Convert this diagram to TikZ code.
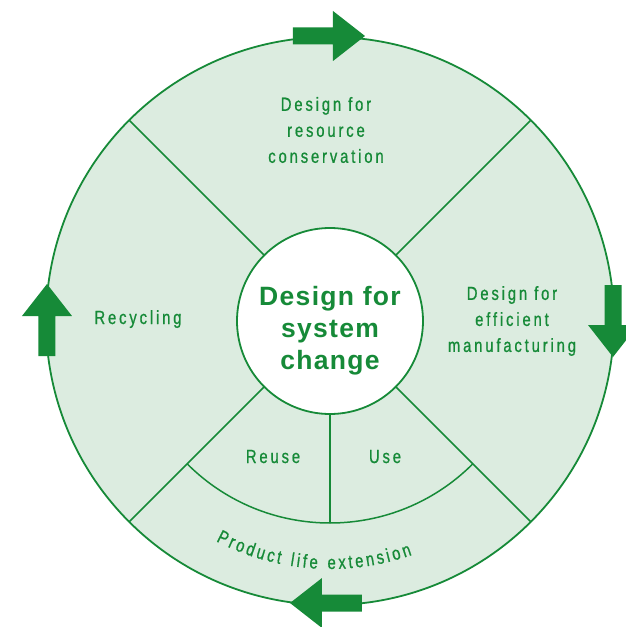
\documentclass[tikz,border=0pt]{standalone}
\usepackage{fontspec}
\newfontfamily\lblfont[FakeStretch=0.78,LetterSpace=15,FakeBold=0.8]{Liberation Sans}
\newfontfamily\ttlfont[LetterSpace=5]{Liberation Sans}
\newcommand\lblsize{\fontsize{19}{26}\selectfont}
\definecolor{cgreen}{RGB}{22,138,56}
\definecolor{cfill}{RGB}{220,236,224}
\newdimen\arcacc
\newdimen\chwd
\newbox\arcbox
\newcommand\measurech[1]{\pgfinterruptpicture\global\setbox\arcbox\hbox{\lblfont\lblsize #1}\endpgfinterruptpicture
  \global\chwd=\wd\arcbox
  \ifdim\chwd=0pt \global\advance\chwd by 4.5pt\fi
  \global\advance\chwd by 2.85pt}
\tikzset{
  divline/.style={draw=cgreen, line width=1.5pt},
  lbl/.style={text=cgreen, font=\lblfont\lblsize, align=center, inner sep=0pt},
  arcchar/.style={text=cgreen, font=\lblfont\lblsize, inner sep=0pt, anchor=base},
  ttl/.style={text=cgreen, font=\ttlfont\bfseries\fontsize{26.5}{32}\selectfont, align=center, inner sep=0pt},
  bigarrow/.style={fill=cgreen, draw=none}
}
\newcommand\cyclearrow[3]{%
  \begin{scope}[shift={(#1,#2)}, rotate=#3]
    \fill[bigarrow] (0,0) -- (-32,25) -- (-32,8.5) -- (-72,8.5) -- (-72,-8.5) -- (-32,-8.5) -- (-32,-25) -- cycle;
  \end{scope}}
\begin{document}
\begin{tikzpicture}[x=1pt,y=1pt]
  \useasboundingbox (-330,-306) rectangle (296,321);
  % outer disc
  \node[circle, draw=cgreen, fill=cfill, line width=1.8pt, minimum size=568pt, inner sep=0pt] (outer) at (0,0) {};
  % dividing lines
  \coordinate (o45) at (45:284);  \coordinate (i45) at (45:93);
  \coordinate (o135) at (135:284); \coordinate (i135) at (135:93);
  \coordinate (o225) at (225:284); \coordinate (i225) at (225:93);
  \coordinate (o315) at (315:284); \coordinate (i315) at (315:93);
  \draw[divline] (i45) -- (o45);
  \draw[divline] (i135) -- (o135);
  \draw[divline] (i225) -- (o225);
  \draw[divline] (i315) -- (o315);
  % use/reuse ring
  \coordinate (a225) at (225:202);
  \coordinate (abot) at (0,-202);
  \coordinate (ibot) at (0,-93);
  \draw[divline] (a225) arc[start angle=225, end angle=315, radius=202];
  \draw[divline] (ibot) -- (abot);
  % inner circle
  \node[circle, draw=cgreen, fill=white, line width=1.8pt, minimum size=186pt, inner sep=0pt] (inner) at (0,0) {};
  \node[ttl] (title) at (0,-10) {Design for\\system\\change};
  % labels
  \node[lbl] (res) at (-4,191) {Design for\\resource\\conservation};
  \node[lbl] (manu) at (182,0) {Design for\\efficient\\manufacturing};
  \node[lbl, anchor=base] (recy) at (-192,-3) {Recycling};
  \node[lbl, anchor=base] (reuse) at (-57,-142) {Reuse};
  \node[lbl, anchor=base] (use) at (55,-142) {Use};
  % curved label: Product life extension
  \global\arcacc=0pt
  \foreach \ch in {P,r,o,d,u,c,t,,l,i,f,e,,e,x,t,e,n,s,i,o,n}{%
    \measurech{\ch}\global\advance\arcacc by \chwd }
  \global\advance\arcacc by -2.85pt
  \pgfmathsetmacro\arcstart{266 - 0.5*\the\arcacc/248*57.2958}
  \global\arcacc=0pt
  \foreach \ch [count=\k] in {P,r,o,d,u,c,t,,l,i,f,e,,e,x,t,e,n,s,i,o,n}{%
    \measurech{\ch}%
    \edef\chw{\the\wd\arcbox}%
    \edef\chpos{\the\arcacc}%
    \global\advance\arcacc by \chwd\relax
    \ifdim\wd\arcbox>0pt
      \pgfmathsetmacro\chang{\arcstart + (\chpos + 0.5*\chw)/248*57.2958}%
      \node[arcchar, rotate=\chang+90] (ple\k) at (\chang:248) {\ch};
    \fi
  }
  % arrows
  \cyclearrow{35}{285}{0}
  \cyclearrow{283}{-36}{-90}
  \cyclearrow{-40}{-282}{180}
  \cyclearrow{-283}{37}{90}
\end{tikzpicture}
\end{document}
